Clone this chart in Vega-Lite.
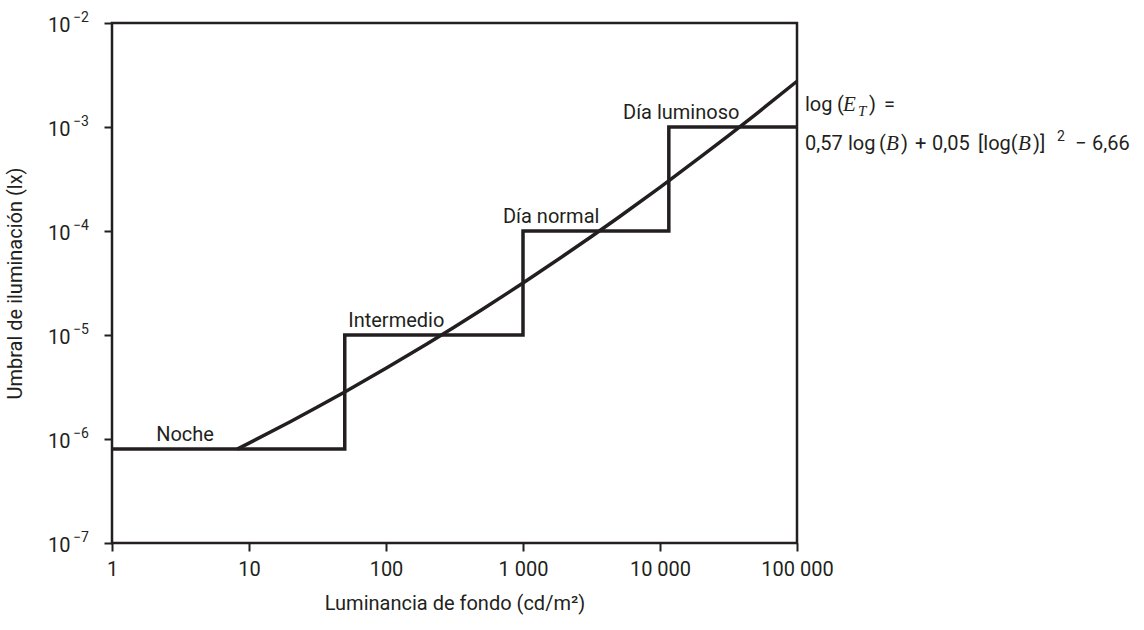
{
  "$schema": "https://vega.github.io/schema/vega-lite/v6.json",
  "width": 685,
  "height": 520,
  "autosize": {"type": "none"},
  "padding": {"left": 112, "top": 23, "right": 347, "bottom": 87},
  "background": "white",
  "config": {
    "view": {"stroke": "#231f20", "strokeWidth": 2.5},
    "font": "Roboto",
    "axis": {
      "labelFont": "Roboto",
      "titleFont": "Roboto",
      "labelFontSize": 20,
      "titleFontSize": 20,
      "labelColor": "#231f20",
      "titleColor": "#231f20",
      "titleFontWeight": "normal",
      "domain": false,
      "grid": false,
      "tickColor": "#231f20",
      "tickWidth": 2,
      "tickSize": 8
    },
    "text": {"font": "Roboto", "fontSize": 20, "color": "#231f20", "align": "left", "baseline": "alphabetic"}
  },
  "encoding": {
    "x": {
      "field": "x",
      "type": "quantitative",
      "scale": {"type": "log", "domain": [1, 100000]},
      "axis": {
        "values": [1, 10, 100, 1000, 10000, 100000],
        "labelExpr": "datum.value == 1000 ? '1 000' : datum.value == 10000 ? '10 000' : datum.value == 100000 ? '100 000' : format(datum.value, 'd')",
        "labelPadding": 8,
        "labelFlush": false,
        "title": "Luminancia de fondo (cd/m²)",
        "titlePadding": 14
      }
    },
    "y": {
      "field": "y",
      "type": "quantitative",
      "scale": {"type": "log", "domain": [1e-7, 0.01]},
      "axis": {
        "values": [1e-7, 1e-6, 1e-5, 0.0001, 0.001, 0.01],
        "labelExpr": "'10'",
        "labelPadding": 34,
        "labelBaseline": "middle",
        "labelOffset": 2,
        "labelFlush": false,
        "title": "Umbral de iluminación (lx)",
        "titlePadding": 22
      }
    }
  },
  "layer": [
    {
      "data": {"values": [
        {"x": 1, "y": 8e-7},
        {"x": 50, "y": 1e-5},
        {"x": 1000, "y": 0.0001},
        {"x": 11600, "y": 0.001},
        {"x": 100000, "y": 0.001}
      ]},
      "mark": {"type": "line", "interpolate": "step-after", "color": "#231f20", "strokeWidth": 3.5}
    },
    {
      "data": {"values": [
        {"x": 8.2, "y": 8.0e-7},
        {"x": 10, "y": 9.12e-7},
        {"x": 20, "y": 1.466e-6},
        {"x": 31.6, "y": 2.03e-6},
        {"x": 50, "y": 2.835e-6},
        {"x": 100, "y": 4.79e-6},
        {"x": 200, "y": 8.25e-6},
        {"x": 316, "y": 1.195e-5},
        {"x": 500, "y": 1.748e-5},
        {"x": 1000, "y": 3.16e-5},
        {"x": 2000, "y": 5.84e-5},
        {"x": 3162, "y": 8.86e-5},
        {"x": 5000, "y": 0.0001357},
        {"x": 10000, "y": 0.000263},
        {"x": 20000, "y": 0.000521},
        {"x": 31623, "y": 0.000827},
        {"x": 50000, "y": 0.001326},
        {"x": 100000, "y": 0.002754}
      ]},
      "mark": {"type": "line", "color": "#231f20", "strokeWidth": 3.5}
    },
    {
      "data": {"values": [
        {"x": 1, "y": 1e-7, "t": "−7"},
        {"x": 1, "y": 1e-6, "t": "−6"},
        {"x": 1, "y": 1e-5, "t": "−5"},
        {"x": 1, "y": 0.0001, "t": "−4"},
        {"x": 1, "y": 0.001, "t": "−3"},
        {"x": 1, "y": 0.01, "t": "−2"}
      ]},
      "mark": {"type": "text", "dx": -39, "dy": -1, "fontSize": 14},
      "encoding": {"text": {"field": "t"}}
    },
    {
      "data": {"values": [
        {"x": 2.1, "y": 8e-7, "t": "Noche"},
        {"x": 53, "y": 1e-5, "t": "Intermedio"},
        {"x": 714, "y": 0.0001, "t": "Día normal"},
        {"x": 5370, "y": 0.001, "t": "Día luminoso"}
      ]},
      "mark": {"type": "text", "dy": -8},
      "encoding": {"text": {"field": "t"}}
    },
    {
      "data": {"values": [{"x": 100000, "y": 0.001425, "t": "log"}]},
      "mark": {"type": "text", "dx": 8},
      "encoding": {"text": {"field": "t"}}
    },
    {
      "data": {"values": [{"x": 100000, "y": 0.001425, "t": "("}]},
      "mark": {"type": "text", "dx": 40},
      "encoding": {"text": {"field": "t"}}
    },
    {
      "data": {"values": [{"x": 100000, "y": 0.001425, "t": "E"}]},
      "mark": {"type": "text", "dx": 46, "fontSize": 21, "font": "Liberation Serif", "fontStyle": "italic"},
      "encoding": {"text": {"field": "t"}}
    },
    {
      "data": {"values": [{"x": 100000, "y": 0.001425, "t": "T"}]},
      "mark": {"type": "text", "dx": 61, "dy": 5, "fontSize": 15, "font": "Liberation Serif", "fontStyle": "italic"},
      "encoding": {"text": {"field": "t"}}
    },
    {
      "data": {"values": [{"x": 100000, "y": 0.001425, "t": ")"}]},
      "mark": {"type": "text", "dx": 72},
      "encoding": {"text": {"field": "t"}}
    },
    {
      "data": {"values": [{"x": 100000, "y": 0.001425, "t": "="}]},
      "mark": {"type": "text", "dx": 87},
      "encoding": {"text": {"field": "t"}}
    },
    {
      "data": {"values": [{"x": 100000, "y": 0.000601, "t": "0,57"}]},
      "mark": {"type": "text", "dx": 8},
      "encoding": {"text": {"field": "t"}}
    },
    {
      "data": {"values": [{"x": 100000, "y": 0.000601, "t": "log"}]},
      "mark": {"type": "text", "dx": 51},
      "encoding": {"text": {"field": "t"}}
    },
    {
      "data": {"values": [{"x": 100000, "y": 0.000601, "t": "("}]},
      "mark": {"type": "text", "dx": 82},
      "encoding": {"text": {"field": "t"}}
    },
    {
      "data": {"values": [{"x": 100000, "y": 0.000601, "t": "B"}]},
      "mark": {"type": "text", "dx": 89, "fontSize": 21, "font": "Liberation Serif", "fontStyle": "italic"},
      "encoding": {"text": {"field": "t"}}
    },
    {
      "data": {"values": [{"x": 100000, "y": 0.000601, "t": ")"}]},
      "mark": {"type": "text", "dx": 104},
      "encoding": {"text": {"field": "t"}}
    },
    {
      "data": {"values": [{"x": 100000, "y": 0.000601, "t": "+"}]},
      "mark": {"type": "text", "dx": 118},
      "encoding": {"text": {"field": "t"}}
    },
    {
      "data": {"values": [{"x": 100000, "y": 0.000601, "t": "0,05"}]},
      "mark": {"type": "text", "dx": 135},
      "encoding": {"text": {"field": "t"}}
    },
    {
      "data": {"values": [{"x": 100000, "y": 0.000601, "t": "[log("}]},
      "mark": {"type": "text", "dx": 181},
      "encoding": {"text": {"field": "t"}}
    },
    {
      "data": {"values": [{"x": 100000, "y": 0.000601, "t": "B"}]},
      "mark": {"type": "text", "dx": 221, "fontSize": 21, "font": "Liberation Serif", "fontStyle": "italic"},
      "encoding": {"text": {"field": "t"}}
    },
    {
      "data": {"values": [{"x": 100000, "y": 0.000601, "t": ")]"}]},
      "mark": {"type": "text", "dx": 236},
      "encoding": {"text": {"field": "t"}}
    },
    {
      "data": {"values": [{"x": 100000, "y": 0.000601, "t": "2"}]},
      "mark": {"type": "text", "dx": 260, "dy": -9, "fontSize": 14},
      "encoding": {"text": {"field": "t"}}
    },
    {
      "data": {"values": [{"x": 100000, "y": 0.000601, "t": "−"}]},
      "mark": {"type": "text", "dx": 278},
      "encoding": {"text": {"field": "t"}}
    },
    {
      "data": {"values": [{"x": 100000, "y": 0.000601, "t": "6,66"}]},
      "mark": {"type": "text", "dx": 295},
      "encoding": {"text": {"field": "t"}}
    }
  ]
}
